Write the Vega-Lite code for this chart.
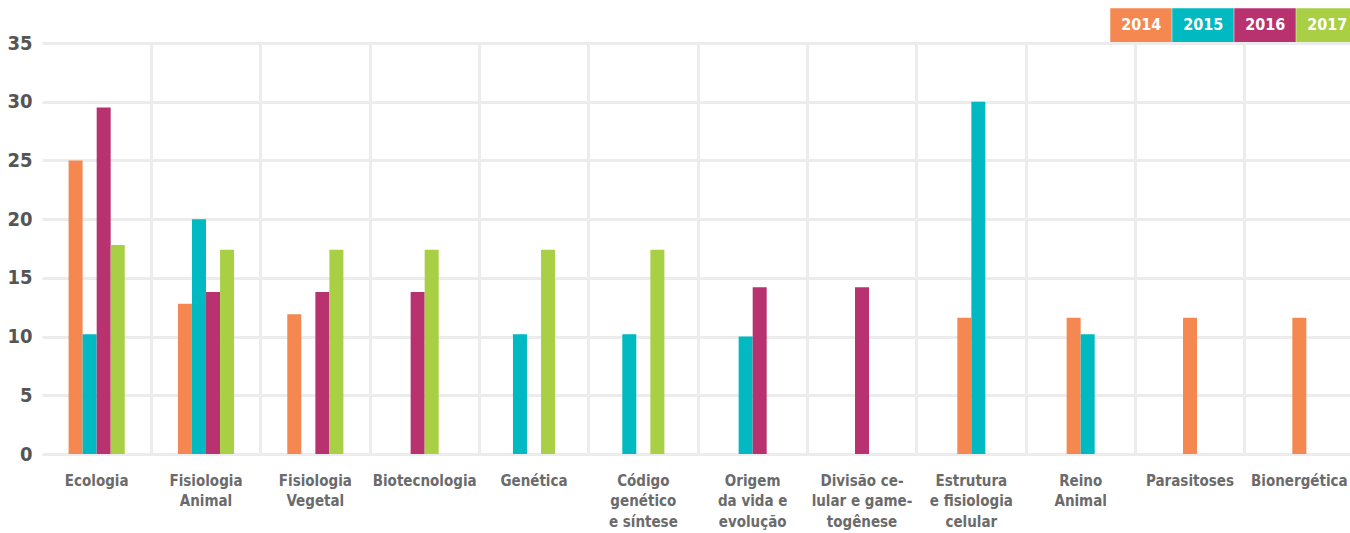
{
  "$schema": "https://vega.github.io/schema/vega-lite/v6.json",
  "autosize": {"type": "none"},
  "padding": {"left": 42, "top": 43, "right": -4, "bottom": 79},
  "width": 1312,
  "height": 411,
  "background": "white",
  "config": {
    "view": {"stroke": null},
    "font": "DejaVu Sans Condensed, Roboto, sans-serif"
  },
  "data": {
    "values": [
      {"tema": "Ecologia", "ano": "2014", "pct": 25},
      {"tema": "Ecologia", "ano": "2015", "pct": 10.2},
      {"tema": "Ecologia", "ano": "2016", "pct": 29.5},
      {"tema": "Ecologia", "ano": "2017", "pct": 17.8},
      {"tema": "Fisiologia|Animal", "ano": "2014", "pct": 12.8},
      {"tema": "Fisiologia|Animal", "ano": "2015", "pct": 20},
      {"tema": "Fisiologia|Animal", "ano": "2016", "pct": 13.8},
      {"tema": "Fisiologia|Animal", "ano": "2017", "pct": 17.4},
      {"tema": "Fisiologia|Vegetal", "ano": "2014", "pct": 11.9},
      {"tema": "Fisiologia|Vegetal", "ano": "2016", "pct": 13.8},
      {"tema": "Fisiologia|Vegetal", "ano": "2017", "pct": 17.4},
      {"tema": "Biotecnologia", "ano": "2016", "pct": 13.8},
      {"tema": "Biotecnologia", "ano": "2017", "pct": 17.4},
      {"tema": "Genética", "ano": "2015", "pct": 10.2},
      {"tema": "Genética", "ano": "2017", "pct": 17.4},
      {"tema": "Código|genético|e síntese", "ano": "2015", "pct": 10.2},
      {"tema": "Código|genético|e síntese", "ano": "2017", "pct": 17.4},
      {"tema": "Origem|da vida e|evolução", "ano": "2015", "pct": 10},
      {"tema": "Origem|da vida e|evolução", "ano": "2016", "pct": 14.2},
      {"tema": "Divisão ce-|lular e game-|togênese", "ano": "2016", "pct": 14.2},
      {"tema": "Estrutura|e fisiologia|celular", "ano": "2014", "pct": 11.6},
      {"tema": "Estrutura|e fisiologia|celular", "ano": "2015", "pct": 30},
      {"tema": "Reino|Animal", "ano": "2014", "pct": 11.6},
      {"tema": "Reino|Animal", "ano": "2015", "pct": 10.2},
      {"tema": "Parasitoses", "ano": "2014", "pct": 11.6},
      {"tema": "Bionergética", "ano": "2014", "pct": 11.6}
    ]
  },
  "resolve": {"scale": {"x": "independent"}, "axis": {"x": "independent"}},
  "layer": [
    {
      "mark": {"type": "rule", "opacity": 0},
      "encoding": {
        "x": {
          "field": "tema",
          "type": "nominal",
          "sort": null,
          "scale": {"paddingInner": 0, "paddingOuter": 0},
          "axis": {
            "orient": "top",
            "title": null,
            "labels": false,
            "ticks": false,
            "domain": false,
            "grid": true,
            "bandPosition": 1,
            "gridColor": "#ececec",
            "gridWidth": 3
          }
        }
      }
    },
    {
      "mark": {"type": "rule", "opacity": 0},
      "encoding": {
        "x": {
          "field": "tema",
          "type": "nominal",
          "sort": null,
          "scale": {"paddingInner": 0, "paddingOuter": 0},
          "axis": {
            "orient": "bottom",
            "title": null,
            "labelAngle": 0,
            "labelExpr": "split(datum.label, '|')",
            "labelFont": "DejaVu Sans Condensed, Roboto, sans-serif",
            "labelFontSize": 15,
            "labelFontWeight": "bold",
            "labelColor": "#6b6b6b",
            "labelLineHeight": 20.5,
            "labelPadding": 19,
            "labelBaseline": "top",
            "ticks": false,
            "domain": false,
            "grid": false
          }
        }
      }
    },
    {
      "transform": [
        {"calculate": "toNumber(datum.ano)", "as": "anoNum"},
        {"joinaggregate": [{"op": "min", "field": "anoNum", "as": "primeiro"}, {"op": "max", "field": "anoNum", "as": "ultimo"}], "groupby": ["tema"]},
        {"calculate": "datum.anoNum - (datum.primeiro + datum.ultimo) / 2", "as": "desloc"}
      ],
      "mark": {"type": "bar", "width": 14},
      "encoding": {
        "x": {
          "field": "tema",
          "type": "nominal",
          "sort": null,
          "scale": {"paddingInner": 0, "paddingOuter": 0},
          "axis": null
        },
        "xOffset": {
          "field": "desloc",
          "type": "quantitative",
          "scale": {"domain": [-3.893, 3.893], "nice": false, "zero": false}
        },
        "y": {
          "field": "pct",
          "type": "quantitative",
          "scale": {"domain": [0, 35], "nice": false},
          "axis": {
            "title": null,
            "values": [0, 5, 10, 15, 20, 25, 30, 35],
            "labelFont": "DejaVu Sans Condensed, Roboto, sans-serif",
            "labelFontSize": 20,
            "labelFontWeight": "bold",
            "labelColor": "#555555",
            "labelPadding": 10,
            "ticks": false,
            "domain": false,
            "grid": true,
            "gridColor": "#ececec",
            "gridWidth": 3
          }
        },
        "color": {
          "field": "ano",
          "type": "nominal",
          "scale": {
            "domain": ["2014", "2015", "2016", "2017"],
            "range": ["#F58850", "#00B9C1", "#B83270", "#A9CF44"]
          },
          "legend": {
            "orient": "none",
            "legendX": 1068,
            "legendY": -49,
            "direction": "horizontal",
            "title": null,
            "padding": 0,
            "columnPadding": 0,
            "symbolType": "M-1,-0.55H1V0.55H-1Z",
            "symbolSize": 3782,
            "symbolStrokeWidth": 0,
            "symbolOpacity": 1,
            "labelAlign": "center",
            "labelBaseline": "middle",
            "labelOffset": -30.75,
            "labelColor": "white",
            "labelFont": "DejaVu Sans Condensed, Roboto, sans-serif",
            "labelFontSize": 16,
            "labelFontWeight": "bold"
          }
        }
      }
    }
  ]
}
